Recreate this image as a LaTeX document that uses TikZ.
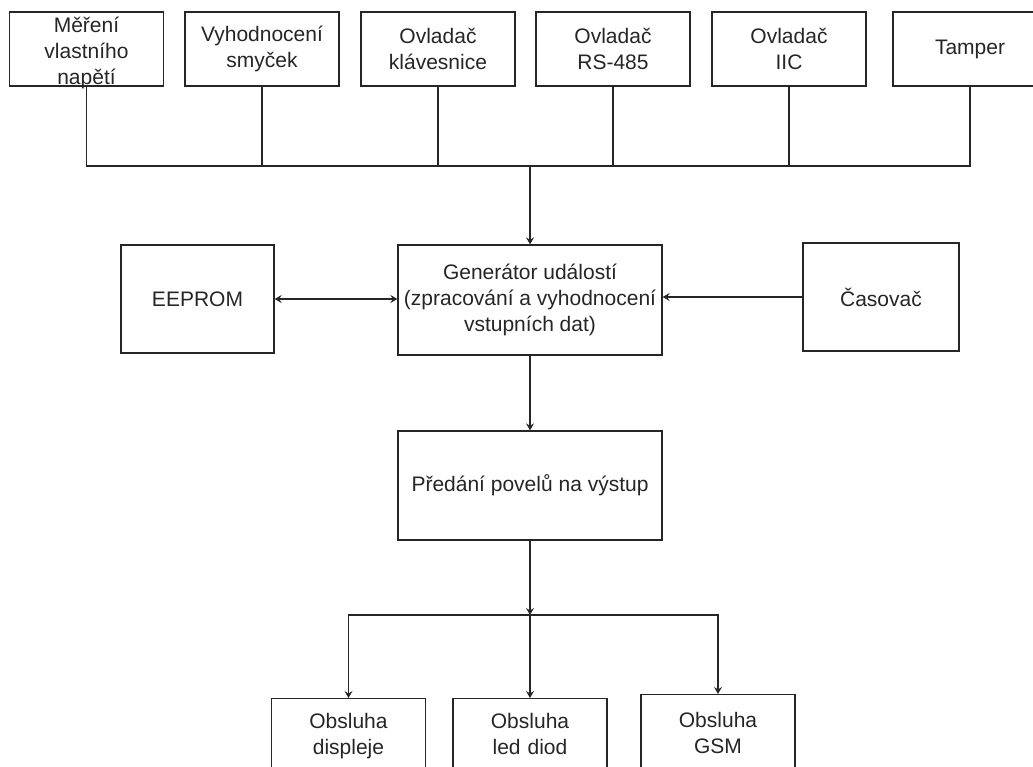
\documentclass[tikz,border=0pt]{standalone}
\usepackage{fontspec}
\setmainfont{Liberation Sans}
\usetikzlibrary{arrows.meta}
\begin{document}
\begin{tikzpicture}[x=1pt,y=-1pt,
  font=\fontsize{21}{26}\selectfont,
  box/.style={draw=black!85, line width=1.3pt, inner sep=0pt, align=center, text=black!85},
  topbox/.style={box, minimum width=154pt, minimum height=74pt},
  outbox/.style={box, anchor=north, minimum width=154pt, text width=150pt, inner ysep=15pt, text depth=90pt},
  wire/.style={draw=black!85, line width=1.3pt},
  arr/.style={wire, -{Stealth[length=7pt,width=8pt,inset=2.5pt]}},
  darr/.style={wire, {Stealth[length=7pt,width=8pt,inset=2.5pt]}-{Stealth[length=7pt,width=8pt,inset=2.5pt]}}]
\useasboundingbox (0,0) rectangle (1033,767);
\fill[white] (0,0) rectangle (1033,767);
\clip (0,0) rectangle (1033,767);

% input blocks
\node[topbox, label={[align=center, text=black!85, inner sep=0pt, yshift=-4pt]center:Měření\\vlastního\\napětí}] (b1) at (86.5,49) {};
\node[topbox] (b2) at (262,49) {Vyhodnocení\\smyček};
\node[topbox] (b3) at (438,49) {Ovladač\\klávesnice};
\node[topbox] (b4) at (613,49) {Ovladač\\RS-485};
\node[topbox] (b5) at (789,49) {Ovladač\\IIC};
\node[topbox] (b6) at (970,49) {Tamper};

% central processing
\node[box, minimum width=264pt, minimum height=110pt] (gen) at (530,300)
  {Generátor událostí\\(zpracování a vyhodnocení\\vstupních dat)};
\node[box, minimum width=153pt, minimum height=108pt] (eeprom) at (197.5,299) {EEPROM};
\node[box, minimum width=156pt, minimum height=108pt] (cas) at (881,297) {Časovač};
\node[box, minimum width=264pt, minimum height=109pt] (pred) at (530,485.5) {Předání povelů na výstup};

% output blocks
\node[outbox] (d1) at (348.5,698) {Obsluha\\displeje};
\node[outbox] (d2) at (530,698) {Obsluha\\led diod};
\node[outbox, inner ysep=18pt] (d3) at (718,694) {Obsluha\\GSM};

% input bus
\coordinate (bus) at (530,166);
\draw[wire] (b1.south) |- (bus) -| (b6.south);
\foreach \b in {b2,b3,b4,b5} \draw[wire] (\b.south) -- (\b.south |- bus);
\draw[arr] (bus) -- (gen.north);

% side links
\draw[darr] (eeprom.east) -- (eeprom.east -| gen.west);
\draw[arr] (cas.west) -- (cas.west -| gen.east);

% output path
\draw[arr] (gen.south) -- (pred.north);
\coordinate (split) at (530,615);
\draw[arr] (pred.south) -- (split);
\draw[arr] (split) -| (d1.north);
\draw[arr] (split) -- (d2.north);
\draw[arr] (split) -| (d3.north);
\end{tikzpicture}
\end{document}
